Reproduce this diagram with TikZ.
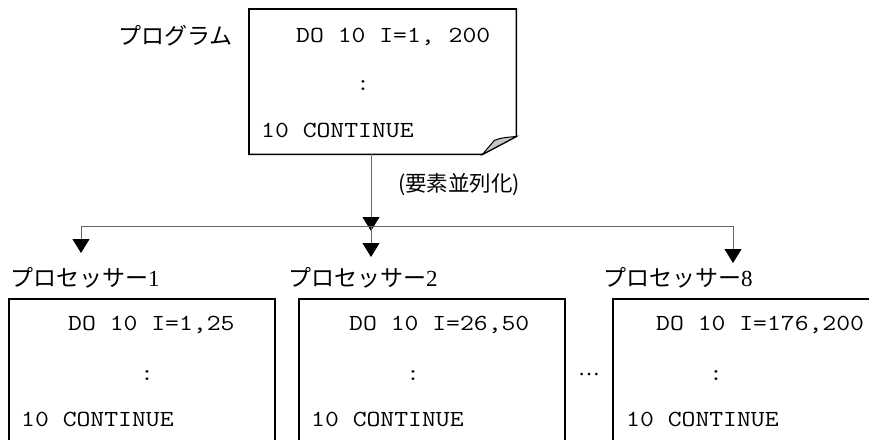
\documentclass[tikz,border=0pt]{standalone}
\usepackage{fontspec}
\setmainfont{Liberation Serif}
\setmonofont{Latin Modern Mono}[FakeStretch=1.17]
\newfontfamily\jpfont{Noto Sans CJK JP}
\usetikzlibrary{arrows.meta}
\begin{document}
\begin{tikzpicture}[x=1pt,y=-1pt,
  code/.style={font=\ttfamily\fontsize{23}{24}\selectfont, inner sep=0pt, anchor=base west},
  dots/.style={font=\ttfamily\fontsize{23}{24}\selectfont, inner sep=0pt, anchor=base},
  lbl/.style={font=\jpfont\fontsize{23}{24}\selectfont, inner sep=0pt, anchor=base west},
  note/.style={font=\jpfont\fontsize{21.5}{22}\selectfont, inner sep=0pt, anchor=base west},
  box/.style={draw=black, line width=1.6pt, inner sep=0pt, anchor=north west, minimum width=266pt, minimum height=170pt},
  conn/.style={draw=black!60, line width=0.8pt},
  arr/.style={conn, -{Triangle[length=14pt,width=17pt,color=black]}}]
\useasboundingbox (0,0) rectangle (869,439);

% top program box with folded corner
\node[inner sep=0pt, anchor=north west, minimum width=267pt, minimum height=145pt] (prog) at (249,9) {};
\draw[line width=1.6pt, line join=miter]
  (prog.north west) -- (prog.north east) -- ([yshift=18pt]prog.south east)
  -- ([xshift=-34pt]prog.south east) -- (prog.south west) -- cycle;
\draw[line width=1pt, fill=black!22]
  ([xshift=-34pt]prog.south east) -- ([xshift=-22pt,yshift=14pt]prog.south east)
  .. controls ([xshift=-16pt,yshift=17pt]prog.south east) and ([xshift=-8pt,yshift=17pt]prog.south east)
  .. ([yshift=18pt]prog.south east) -- cycle;

\node[lbl] (proglbl) at (118,44) {プログラム};
\node[code] (p1) at (296,42) {DO 10 I=1, 200};
\node[dots] (p2) at (363,90) {:};
\node[code] (p3) at (261,137) {10 CONTINUE};

% connectors
\coordinate (split) at (371,226);
\coordinate (L) at (81,226);
\coordinate (R) at (733,226);
\coordinate (t1) at (81,253);
\coordinate (t2) at (371,257);
\coordinate (t8) at (733,263);
\draw[arr] (prog.south -| split) -- ([yshift=-5pt]split);
\draw[conn] (L) -- (R);
\draw[arr] (L) -- (t1);
\draw[arr] (split) -- (t2);
\draw[arr] (R) -- (t8);
\node[note] (par) at (398,191) {(要素並列化)};

% processor labels
\node[lbl] (lab1) at (10,286) {プロセッサー{\rmfamily 1}};
\node[lbl] (lab2) at (288,286) {プロセッサー{\rmfamily 2}};
\node[lbl] (lab8) at (603,286) {プロセッサー{\rmfamily 8}};

% processor boxes
\node[box] (b1) at (8,298) {};
\node[box] (b2) at (298,298) {};
\node[box] (b8) at (612,298) {};

\node[code] (b1a) at (68,330) {DO 10 I=1,25};
\node[dots] (b1b) at (147,380) {:};
\node[code] (b1c) at (21,426) {10 CONTINUE};

\node[code] (b2a) at (349,330) {DO 10 I=26,50};
\node[dots] (b2b) at (413,380) {:};
\node[code] (b2c) at (311,426) {10 CONTINUE};

\node[code] (b8a) at (656,330) {DO 10 I=176,200};
\node[dots] (b8b) at (716,380) {:};
\node[code] (b8c) at (626,426) {10 CONTINUE};

\node[font=\rmfamily\fontsize{22}{22}\selectfont, inner sep=0pt, anchor=base] (ell) at (589,375) {…};
\end{tikzpicture}
\end{document}
